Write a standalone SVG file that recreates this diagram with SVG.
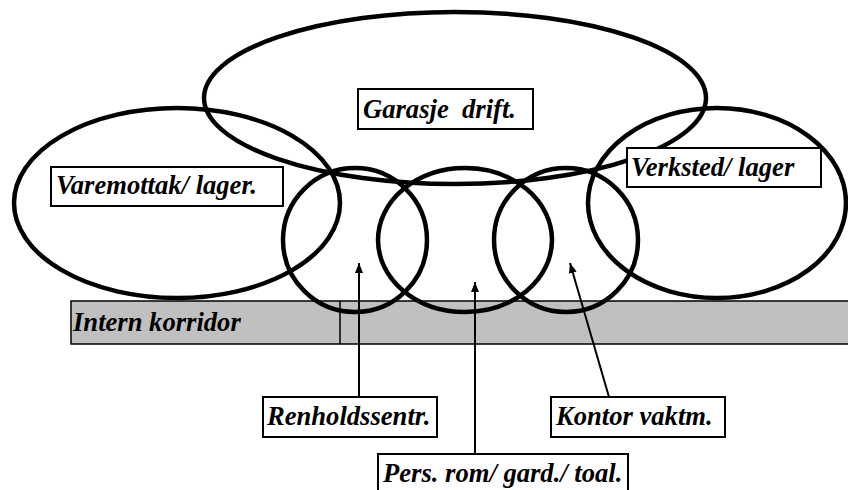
<svg xmlns="http://www.w3.org/2000/svg" width="848" height="490" viewBox="0 0 848 490">
<defs>
<style>
.zone{fill:none;stroke:#000;stroke-width:4.5}
.box{fill:#fff;stroke:#000;stroke-width:2}
text{font-family:'Liberation Serif',serif;font-size:26.6px;font-weight:700;font-style:italic;fill:#000}
.arr{stroke:#000;stroke-width:2;fill:none}
</style>
<marker id="ah" viewBox="0 0 10 8" refX="10" refY="4" markerWidth="10" markerHeight="8" markerUnits="userSpaceOnUse" orient="auto">
<path d="M0,0 L10,4 L0,8 Z" fill="#000"/>
</marker>
</defs>
<rect width="848" height="490" fill="#fff"/>
<g id="corridor">
<rect x="71" y="301" width="790" height="43" fill="#c0c0c0" stroke="#000" stroke-width="1.5"/>
<line x1="340" y1="301" x2="340" y2="344" stroke="#000" stroke-width="1.5"/>
<text x="73" y="331">Intern korridor</text>
</g>
<g id="garasje">
<ellipse class="zone" cx="455" cy="98" rx="251" ry="86"/>
</g>
<g id="varemottak">
<ellipse class="zone" cx="177" cy="203" rx="163" ry="95"/>
</g>
<g id="verksted">
<ellipse class="zone" cx="717" cy="203" rx="129" ry="95"/>
</g>
<g id="renhold">
<ellipse class="zone" cx="355" cy="240" rx="72" ry="72"/>
</g>
<g id="pers">
<ellipse class="zone" cx="465" cy="240" rx="87" ry="72"/>
</g>
<g id="kontor">
<ellipse class="zone" cx="566" cy="240" rx="72" ry="72"/>
</g>
<g id="garasje-label">
<rect class="box" x="358" y="89" width="175" height="40"/>
<text x="363" y="118" xml:space="preserve">Garasje  drift.</text>
</g>
<g id="varemottak-label">
<rect class="box" x="51" y="167" width="232" height="39"/>
<text x="56" y="194">Varemottak/ lager.</text>
</g>
<g id="verksted-label">
<rect class="box" x="627" y="148" width="194" height="39"/>
<text x="631" y="176">Verksted/ lager</text>
</g>
<g id="connectors">
<line class="arr" x1="359" y1="397" x2="359" y2="263" marker-end="url(#ah)"/>
<line class="arr" x1="475" y1="454" x2="475" y2="282" marker-end="url(#ah)"/>
<line class="arr" x1="609" y1="397" x2="570" y2="263" marker-end="url(#ah)"/>
</g>
<g id="renhold-label">
<rect class="box" x="263" y="397" width="174" height="40"/>
<text x="267" y="425">Renholdssentr.</text>
</g>
<g id="kontor-label">
<rect class="box" x="551" y="397" width="174" height="40"/>
<text x="556" y="425">Kontor vaktm.</text>
</g>
<g id="pers-label">
<rect class="box" x="378" y="454" width="250" height="50"/>
<text x="383" y="482">Pers. rom/ gard./ toal.</text>
</g>
</svg>
